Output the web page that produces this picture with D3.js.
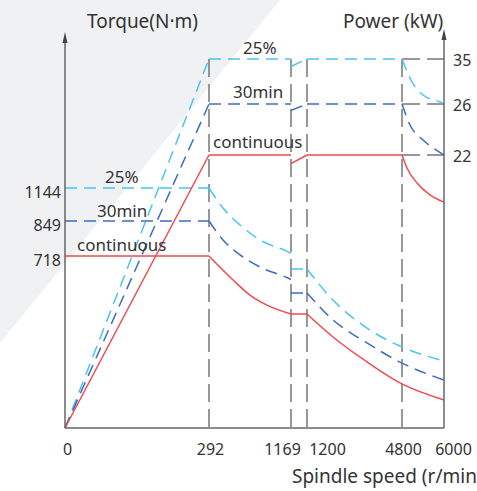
<!DOCTYPE html>
<html>
<head>
<meta charset="utf-8">
<script src="https://cdn.jsdelivr.net/npm/d3@7"></script>
<style>
  body { margin: 0; background: #fff; }
  text { font-family: "Noto Sans", sans-serif; fill: #333; }
</style>
</head>
<body>
<div id="chart"></div>
<script>
// tick values
const speedTicks = [0, 292, 1169, 1200, 4800, 6000];
const torqueTicks = [718, 849, 1144];
const powerTicks = [22, 26, 35];
const seriesNames = ["25%", "30min", "continuous"];

// torque curves, N·m vs r/min (null = break in the line)
const torque25 = [[0, 1144], [292, 1144], null,
  [292, 1144], [442, 965], [624, 834], [837, 778], [1116, 737], [1169, 728], null,
  [1169, 664], [1200, 664], null,
  [1200, 664], [2185, 534], [3474, 417], [4800, 338], [6000, 280]];
const torque30 = [[0, 849], [292, 849], null,
  [292, 849], [442, 778], [624, 722], [837, 672], [1137, 626], [1169, 620], null,
  [1169, 564], [1200, 564], null,
  [1200, 564], [2185, 451], [3474, 355], [4800, 271], [6000, 200]];
const torqueCont = [[0, 718], [292, 718], null,
  [292, 718], [549, 618], [730, 555], [912, 513], [1169, 476], null,
  [1169, 476], [1200, 476], null,
  [1200, 476], [2185, 380], [3474, 276], [4800, 184], [6000, 117]];

// power curves, kW vs r/min
const power25 = [[0, 0], [292, 35], null, [292, 35], [1169, 35], null,
  [1169, 33.5], [1200, 35], null, [1200, 35], [4800, 35], null,
  [4800, 35], [5086, 30.4], [5400, 27.8], [5886, 26.4], [6000, 26]];
const power30 = [[0, 0], [292, 26], null, [292, 26], [1169, 26], null,
  [1169, 25.5], [1200, 26], null, [1200, 26], [4800, 26], null,
  [4800, 26], [5029, 24.35], [5400, 23.18], [5686, 22.55], [6000, 22]];
const powerCont = [[0, 0], [292, 22], null, [292, 22], [1169, 22], null,
  [1169, 21.3], [1200, 22], null, [1200, 22], [4800, 22], null,
  [4800, 22], [4943, 20.95], [5229, 19.74], [5600, 18.78], [6000, 18.2]];

const width = 477, height = 491;

const svg = d3.select("#chart")
  .append("svg")
  .attr("width", width)
  .attr("height", height);

// grey corner in the background
svg.append("path").attr("d", "M0,0H280L0,343Z").attr("fill", "#f0f1f3");

// the axes are not linear, every tick sits at its own place
const x = d3.scaleLinear().domain(speedTicks).range([65, 209, 291, 307, 402, 444]);
const yT = d3.scaleLinear().domain([0, ...torqueTicks]).range([428, 256, 221, 188]);
const yP = d3.scaleLinear().domain([0, ...powerTicks]).range([428, 155, 104, 59]);

// grey guide lines
const guides = svg.append("g")
  .attr("stroke", "#777")
  .attr("stroke-width", 1.5)
  .attr("stroke-dasharray", "18,7");
speedTicks.slice(1, 5).forEach(s => {
  guides.append("line")
    .attr("x1", x(s)).attr("x2", x(s))
    .attr("y1", yP(35)).attr("y2", yP(0));
});
powerTicks.forEach(p => {
  guides.append("line")
    .attr("x1", x(4800)).attr("x2", x(6000))
    .attr("y1", yP(p)).attr("y2", yP(p));
});

const lineT = d3.line().defined(d => d)
  .x(d => x(d[0])).y(d => yT(d[1]))
  .curve(d3.curveMonotoneX);
const lineP = d3.line().defined(d => d)
  .x(d => x(d[0])).y(d => yP(d[1]))
  .curve(d3.curveMonotoneX);

const series = [
  { name: seriesNames[0], torque: torque25, power: power25, color: "#4ac3f2", dash: "12,7" },
  { name: seriesNames[1], torque: torque30, power: power30, color: "#3b6dbf", dash: "12,7" },
  { name: seriesNames[2], torque: torqueCont, power: powerCont, color: "#ef4a4f", dash: null }
];

series.forEach(s => {
  [lineT(s.torque), lineP(s.power)].forEach(d => {
    svg.append("path")
      .attr("d", d)
      .attr("fill", "none")
      .attr("stroke", s.color)
      .attr("stroke-width", 1.5)
      .attr("stroke-dasharray", s.dash);
  });
});

// axis lines with arrows
const axisColor = "#666";
svg.append("line").attr("x1", 65).attr("x2", 444).attr("y1", 428).attr("y2", 428)
  .attr("stroke", axisColor).attr("stroke-width", 1.5);
svg.append("line").attr("x1", 65).attr("x2", 65).attr("y1", 428).attr("y2", 38)
  .attr("stroke", axisColor).attr("stroke-width", 1.5);
svg.append("line").attr("x1", 444).attr("x2", 444).attr("y1", 428).attr("y2", 35)
  .attr("stroke", axisColor).attr("stroke-width", 1.5);
svg.append("path").attr("d", "M65,32L62.5,43L67.5,43Z").attr("fill", "#444");
svg.append("path").attr("d", "M444,29L441.5,40L446.5,40Z").attr("fill", "#444");

// tick labels
const xNudge = { 0: 2, 292: 1, 1169: -9, 1200: 20, 4800: 1, 6000: 9 };

const xAxis = svg.append("g")
  .attr("transform", "translate(0,428)")
  .call(d3.axisBottom(x).tickValues(speedTicks).tickSize(0).tickFormat(d3.format("d")));
xAxis.select(".domain").remove();
xAxis.selectAll("text")
  .attr("y", 27).attr("dy", 0)
  .attr("dx", d => xNudge[d])
  .style("font-size", "16px");

const leftAxis = svg.append("g")
  .attr("transform", "translate(65,0)")
  .call(d3.axisLeft(yT).tickValues(torqueTicks).tickSize(0).tickPadding(4).tickFormat(d3.format("d")));
leftAxis.select(".domain").remove();
leftAxis.selectAll("text").attr("y", 4).style("font-size", "16px");

const rightAxis = svg.append("g")
  .attr("transform", "translate(444,0)")
  .call(d3.axisRight(yP).tickValues(powerTicks).tickSize(0).tickPadding(9).tickFormat(d3.format("d")));
rightAxis.select(".domain").remove();
rightAxis.selectAll("text").attr("y", 1).style("font-size", "16px");

svg.selectAll(".tick text").attr("fill", "#333").style("font-family", "'Noto Sans', sans-serif");

// axis titles
svg.append("text").attr("x", 87).attr("y", 28).style("font-size", "19px").text("Torque(N·m)");
svg.append("text").attr("x", 343).attr("y", 28).style("font-size", "19px").text("Power (kW)");
svg.append("text").attr("x", 292).attr("y", 483).style("font-size", "19px").text("Spindle speed (r/min)");

// series labels, one near the torque lines and one near the power lines
const torqueLabels = [[105, 183], [97, 217], [77, 251]];
const powerLabels = [[243, 54], [233, 98], [213, 148]];
seriesNames.forEach((name, i) => {
  svg.append("text").attr("x", torqueLabels[i][0]).attr("y", torqueLabels[i][1])
    .style("font-size", "17px").text(name);
  svg.append("text").attr("x", powerLabels[i][0]).attr("y", powerLabels[i][1])
    .style("font-size", "17px").text(name);
});
</script>
</body>
</html>
